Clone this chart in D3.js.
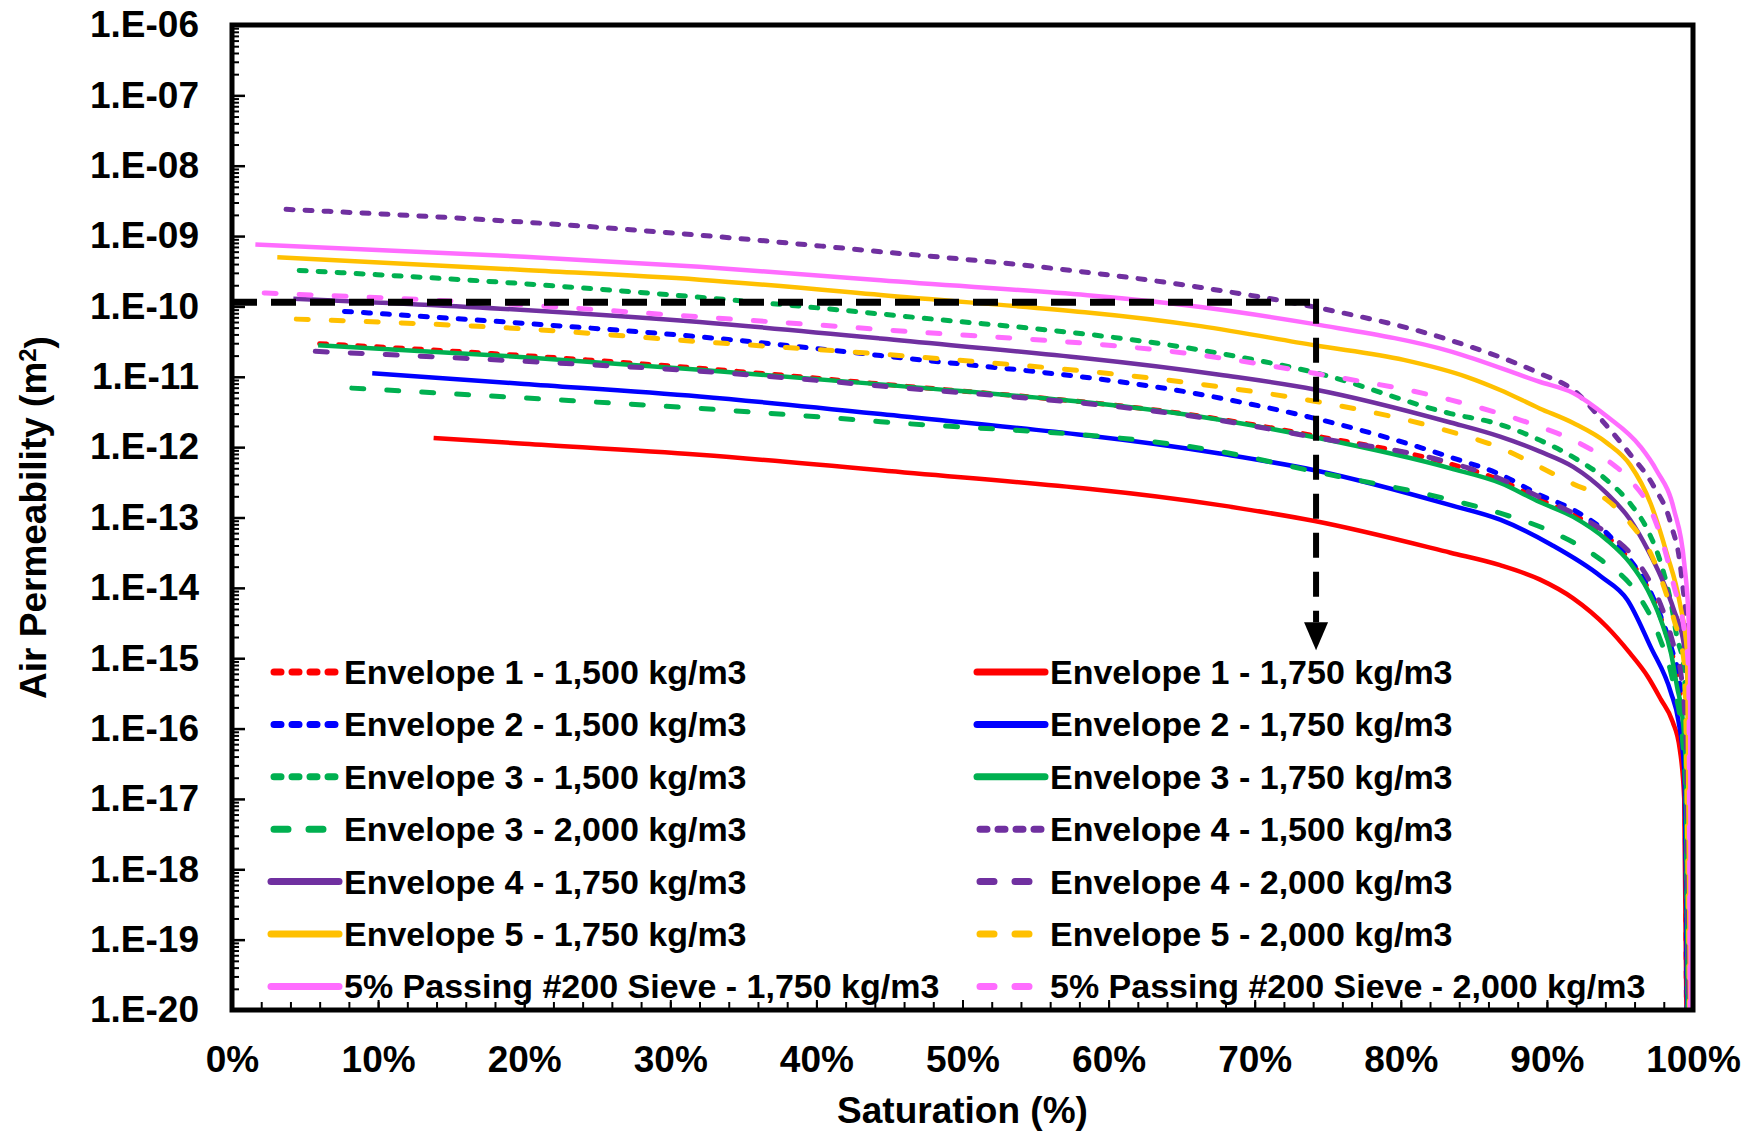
<!DOCTYPE html>
<html>
<head>
<meta charset="utf-8">
<script src="https://cdn.jsdelivr.net/npm/d3@7"></script>
<style>
  body { margin: 0; background: #fff; }
  svg text { font-family: "Liberation Sans", Arial, sans-serif; font-weight: bold; fill: #000; }
</style>
</head>
<body>
<svg id="chart" width="1756" height="1133"></svg>
<script>
// [saturation %, air permeability m2]
var env1_1500 = [[6.0,2.95e-11],[20,2.0e-11],[32,1.32e-11],[44.4,7.9e-12],[67.6,2.5e-12],[74.1,1.45e-12],[83.4,5.75e-13],[86.8,3.4e-13],[89.5,1.8e-13],[91.8,1.1e-13],[94.1,5.4e-14],[95.7,2.4e-14],[96.9,1.0e-14],[97.8,3.7e-15],[98.5,1.3e-15],[99.0,4.5e-16],[99.4,8e-17],[99.55,1e-20]];
var env1_1750 = [[13.8,1.35e-12],[20,1.12e-12],[32,7.8e-13],[44.4,4.7e-13],[67.6,1.5e-13],[74.1,8.9e-14],[83.4,3.16e-14],[86.8,2.1e-14],[89.5,1.32e-14],[91.8,7.1e-15],[94.1,2.8e-15],[95.7,1.17e-15],[96.9,5.5e-16],[97.8,2.6e-16],[98.6,1.26e-16],[99.1,5.0e-17],[99.4,1.0e-17],[99.55,1e-20]];
var env2_1500 = [[7.7,8.5e-11],[20,5.75e-11],[32,3.7e-11],[44.4,2.0e-11],[67.6,5.0e-12],[74.1,2.57e-12],[83.4,7.2e-13],[86.8,4.1e-13],[89.5,2.1e-13],[91.8,1.29e-13],[94.1,6.0e-14],[95.7,2.5e-14],[96.9,1.05e-14],[97.8,3.9e-15],[98.5,1.45e-15],[99.1,4e-16],[99.45,5e-17],[99.6,1e-20]];
var env2_1750 = [[9.6,1.12e-11],[20,7.9e-12],[32,5.25e-12],[44.4,2.95e-12],[67.6,8.1e-13],[74.1,4.7e-13],[83.4,1.5e-13],[86.8,9.3e-14],[90.3,4.1e-14],[93.7,1.45e-14],[95.5,6.8e-15],[97.1,1.45e-15],[98.5,3.2e-16],[99.0,1.3e-16],[99.4,2.5e-17],[99.6,1e-20]];
var env3_1500 = [[4.6,3.25e-10],[20,2.1e-10],[32,1.35e-10],[44.4,7.8e-11],[67.6,2.15e-11],[74.1,1.15e-11],[83.4,3.0e-12],[86.8,2.1e-12],[89.5,1.26e-12],[91.8,7.2e-13],[94.1,3.4e-13],[95.7,1.58e-13],[96.9,6.6e-14],[97.8,2.24e-14],[98.5,6.0e-15],[98.9,2.0e-15],[99.4,6.8e-16],[99.65,1e-20]];
var env3_1750 = [[5.9,2.8e-11],[20,1.9e-11],[32,1.26e-11],[44.4,7.8e-12],[67.6,2.45e-12],[74.1,1.38e-12],[83.4,5.0e-13],[86.8,3.1e-13],[89.5,1.66e-13],[91.8,1.02e-13],[94.1,4.8e-14],[95.7,2.24e-14],[96.9,9.3e-15],[97.8,3.5e-15],[98.5,1.17e-15],[98.9,4.0e-16],[99.3,1.3e-16],[99.5,3e-17],[99.65,1e-20]];
var env3_2000 = [[8.2,6.9e-12],[20,5.0e-12],[32,3.55e-12],[44.4,2.3e-12],[67.6,8.7e-13],[74.1,4.5e-13],[83.4,1.78e-13],[86.8,1.15e-13],[90.3,6.3e-14],[93.7,2.5e-14],[96.0,9.3e-15],[97.6,2.25e-15],[98.7,3.9e-16],[99.3,6.3e-17],[99.6,3.2e-18],[99.65,1e-20]];
var env4_1500 = [[3.7,2.4e-9],[20,1.58e-9],[32,1.03e-9],[44.4,6.0e-10],[55,3.7e-10],[66.3,1.86e-10],[74.1,9.8e-11],[83.4,3.3e-11],[89.5,1.12e-11],[91.8,6.5e-12],[94.1,2.0e-12],[95.7,7.9e-13],[97.3,2.8e-13],[98.5,7.9e-14],[99.2,1.58e-14],[99.6,1.58e-15],[99.75,1e-20]];
var env4_1750 = [[4.2,1.29e-10],[20,8.9e-11],[32,6.0e-11],[44.4,3.5e-11],[67.6,1.07e-11],[74.1,6.6e-12],[83.4,2.24e-12],[86.8,1.41e-12],[89.5,8.7e-13],[91.8,5.25e-13],[94.1,2.2e-13],[95.7,9.3e-14],[96.9,3.5e-14],[97.8,1.45e-14],[98.7,4.8e-15],[99.4,1.45e-15],[99.65,4.0e-16],[99.75,1e-20]];
var env4_2000 = [[5.7,2.3e-11],[20,1.66e-11],[32,1.2e-11],[44.4,7.4e-12],[67.6,2.4e-12],[74.1,1.38e-12],[83.4,6.0e-13],[86.8,3.55e-13],[89.5,1.95e-13],[91.8,1.15e-13],[94.1,6.0e-14],[95.9,2.8e-14],[97.1,1.17e-14],[98.0,4.4e-15],[98.7,1.45e-15],[99.2,5.5e-16],[99.55,5e-17],[99.7,1e-20]];
var env5_1750 = [[3.1,5.0e-10],[20,3.3e-10],[32,2.4e-10],[44.4,1.45e-10],[66.3,5.25e-11],[74.1,2.8e-11],[80.2,1.74e-11],[84.5,1.0e-11],[86.8,6.5e-12],[89.5,3.55e-12],[91.8,2.2e-12],[94.1,1.15e-12],[95.7,5.6e-13],[97.1,1.58e-13],[98.2,3.1e-14],[99.1,6.0e-15],[99.6,1.17e-15],[99.8,1e-20]];
var env5_2000 = [[4.4,6.6e-11],[20,4.8e-11],[32,3.16e-11],[44.4,2.1e-11],[67.6,7.2e-12],[74.1,4.5e-12],[83.4,1.66e-12],[86.8,9.8e-13],[89.5,5.25e-13],[91.8,3.0e-13],[94.1,1.78e-13],[95.7,8.3e-14],[97.1,3.1e-14],[98.0,1.05e-14],[98.7,3.5e-15],[99.4,8.5e-16],[99.75,1e-20]];
var pass5_1750 = [[1.6,7.6e-10],[20,5.1e-10],[32,3.67e-10],[44.4,2.35e-10],[66.3,9.8e-11],[74.1,5.6e-11],[83.4,2.3e-11],[89.5,8.5e-12],[91.8,5.9e-12],[94.1,2.75e-12],[96.4,1.02e-12],[97.5,4.7e-13],[98.7,1.29e-13],[99.4,2.24e-14],[99.7,3.5e-15],[99.8,6.8e-16],[99.85,1e-20]];
var pass5_2000 = [[2.2,1.55e-10],[20,1.05e-10],[32,7.1e-11],[44.4,4.7e-11],[67.6,1.86e-11],[74.1,1.12e-11],[83.4,4.7e-12],[89.5,1.95e-12],[91.8,1.26e-12],[94.1,6.6e-13],[95.7,3.4e-13],[97.1,1.29e-13],[98.0,3.9e-14],[98.7,1.05e-14],[99.4,2.5e-15],[99.7,6.8e-16],[99.8,1e-20]];

// guide: read 1.E-10 at about 74% saturation, arrow down
var guideSat = 74.2, guideK = 1.15e-10, arrowK = 1.3e-15;

var xTicks = [0,10,20,30,40,50,60,70,80,90,100];
var yExps = [-6,-7,-8,-9,-10,-11,-12,-13,-14,-15,-16,-17,-18,-19,-20];

// series in legend order (row by row, two columns)
var series = [
  {name:"Envelope 1 - 1,500 kg/m3", data:env1_1500, color:"#FF0000", style:"dot"},
  {name:"Envelope 1 - 1,750 kg/m3", data:env1_1750, color:"#FF0000", style:"solid"},
  {name:"Envelope 2 - 1,500 kg/m3", data:env2_1500, color:"#0000FF", style:"dot"},
  {name:"Envelope 2 - 1,750 kg/m3", data:env2_1750, color:"#0000FF", style:"solid"},
  {name:"Envelope 3 - 1,500 kg/m3", data:env3_1500, color:"#00B050", style:"dot"},
  {name:"Envelope 3 - 1,750 kg/m3", data:env3_1750, color:"#00B050", style:"solid"},
  {name:"Envelope 3 - 2,000 kg/m3", data:env3_2000, color:"#00B050", style:"dash"},
  {name:"Envelope 4 - 1,500 kg/m3", data:env4_1500, color:"#7030A0", style:"dot"},
  {name:"Envelope 4 - 1,750 kg/m3", data:env4_1750, color:"#7030A0", style:"solid"},
  {name:"Envelope 4 - 2,000 kg/m3", data:env4_2000, color:"#7030A0", style:"dash"},
  {name:"Envelope 5 - 1,750 kg/m3", data:env5_1750, color:"#FFC000", style:"solid"},
  {name:"Envelope 5 - 2,000 kg/m3", data:env5_2000, color:"#FFC000", style:"dash"},
  {name:"5% Passing #200 Sieve - 1,750 kg/m3", data:pass5_1750, color:"#FF6CFF", style:"solid"},
  {name:"5% Passing #200 Sieve - 2,000 kg/m3", data:pass5_2000, color:"#FF6CFF", style:"dash"}
];

(function(){
  var lineStyle = {
    solid: {w:4.5, dash:null},
    dot:   {w:5, dash:"7,12"},
    dash:  {w:5, dash:"12,23"}
  };

  var svg = d3.select("#chart");
  var pL = 232, pR = 1693, pT = 25, pB = 1010;

  var x = d3.scaleLinear().domain([0,100]).range([pL,pR]);
  var y = d3.scaleLog().domain([1e-20,1e-6]).range([pB,pT]);

  svg.append("defs").append("clipPath").attr("id","plotclip")
    .append("rect").attr("x",pL).attr("y",pT-2).attr("width",pR-pL+2).attr("height",pB-pT+2);

  // minor y ticks
  var minor = [];
  for (var e=-20; e<-6; e++) for (var m=2; m<10; m++) minor.push(m*Math.pow(10,e));
  svg.append("g").attr("transform","translate("+pL+",0)")
    .call(d3.axisLeft(y).tickValues(minor).tickSizeInner(-7).tickSizeOuter(0).tickFormat(""))
    .call(function(g){ g.select(".domain").remove(); g.selectAll("line").attr("stroke-width",2); });

  // major y ticks + labels
  var yAxis = d3.axisLeft(y)
    .tickValues(yExps.map(function(p){return Math.pow(10,p);}))
    .tickSizeInner(-13).tickSizeOuter(0).tickPadding(33)
    .tickFormat(function(d){
      var p = Math.round(Math.log10(d));
      return "1.E-" + String(-p).padStart(2,"0");
    });
  svg.append("g").attr("transform","translate("+pL+",0)").call(yAxis)
    .call(function(g){
      g.select(".domain").remove();
      g.selectAll("line").attr("stroke-width",2.5);
      g.selectAll("text").style("font-size","37px");
    });

  // minor x ticks every 2%
  svg.append("g").attr("transform","translate(0,"+pB+")")
    .call(d3.axisBottom(x).tickValues(d3.range(2,100,2)).tickSizeInner(-8).tickSizeOuter(0).tickFormat(""))
    .call(function(g){ g.select(".domain").remove(); g.selectAll("line").attr("stroke-width",2); });

  svg.append("g").attr("transform","translate(0,"+pB+")")
    .call(d3.axisBottom(x).tickValues(xTicks).tickSizeInner(-10).tickSizeOuter(0).tickPadding(36)
      .tickFormat(function(d){return d+"%";}))
    .call(function(g){
      g.select(".domain").remove();
      g.selectAll("line").attr("stroke-width",2);
      g.selectAll("text").style("font-size","37px");
    });

  // curves
  var line = d3.line()
    .x(function(d){return x(d[0]);})
    .y(function(d){return y(d[1]);})
    .curve(d3.curveMonotoneX);

  var plot = svg.append("g").attr("clip-path","url(#plotclip)");
  series.forEach(function(s){
    var st = lineStyle[s.style];
    plot.append("path")
      .datum(s.data)
      .attr("d", line)
      .attr("fill","none")
      .attr("stroke", s.color)
      .attr("stroke-width", st.w)
      .attr("stroke-linecap", st.dash ? "round" : "butt")
      .attr("stroke-linejoin","round")
      .attr("stroke-dasharray", st.dash);
  });

  // guide lines and arrow
  var gx = x(guideSat), gy = y(guideK), ay = y(arrowK);
  svg.append("path")
    .attr("d", "M"+x(0)+","+gy+"H"+gx)
    .attr("fill","none").attr("stroke","#000").attr("stroke-width",7).attr("stroke-dasharray","25,14");
  svg.append("path")
    .attr("d", "M"+gx+","+(gy-3.5)+"V"+(ay-28))
    .attr("fill","none").attr("stroke","#000").attr("stroke-width",6).attr("stroke-dasharray","25,14");
  svg.append("path")
    .attr("d", "M"+(gx-12)+","+(ay-28)+"L"+(gx+12)+","+(ay-28)+"L"+gx+","+ay+"Z")
    .attr("fill","#000");

  // frame
  svg.append("rect")
    .attr("x",pL).attr("y",pT).attr("width",pR-pL).attr("height",pB-pT)
    .attr("fill","none").attr("stroke","#000").attr("stroke-width",5);

  // legend
  var legX = [271, 977], legY0 = 672, legDy = 52.4;
  var legend = svg.append("g");
  series.forEach(function(s,i){
    var col = i % 2, row = Math.floor(i/2);
    var lg = legend.append("g").attr("transform","translate("+legX[col]+","+(legY0+row*legDy)+")");
    var dash = s.style==="dot" ? "7,11" : (s.style==="dash" ? "14,21" : null);
    lg.append("line")
      .attr("x1", s.style==="solid" ? 0 : 3).attr("x2", s.style==="dash" ? 56 : 68)
      .attr("y1",0).attr("y2",0)
      .attr("stroke", s.color).attr("stroke-width",7)
      .attr("stroke-linecap","round")
      .attr("stroke-dasharray", dash);
    lg.append("text").attr("x",73).attr("dy","0.35em")
      .style("font-size","34px").text(s.name);
  });

  // axis titles
  svg.append("text")
    .attr("x",(pL+pR)/2).attr("y",1123)
    .attr("text-anchor","middle").style("font-size","37px")
    .text("Saturation (%)");

  var yt = svg.append("text")
    .attr("transform","translate(33,"+((pT+pB)/2)+") rotate(-90)")
    .attr("text-anchor","middle").attr("dy","0.35em").style("font-size","37px");
  yt.append("tspan").text("Air Permeability (m");
  yt.append("tspan").attr("dy","-0.4em").style("font-size","24px").text("2");
  yt.append("tspan").attr("dy","0.4em").text(")");
})();
</script>
</body>
</html>
